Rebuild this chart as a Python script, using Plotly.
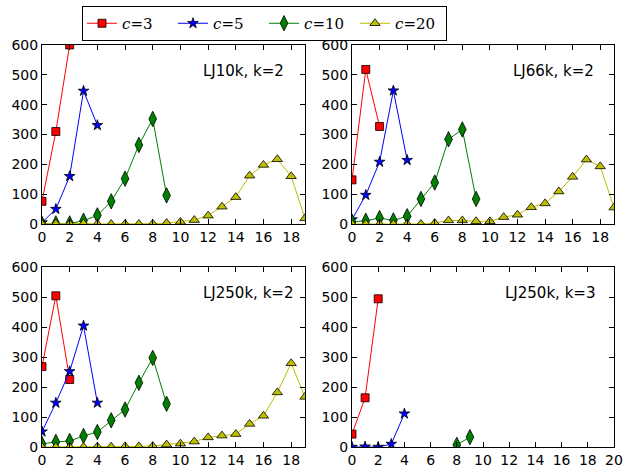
import plotly.graph_objects as go

# ---------- data ----------
panels = ["LJ10k, k=2", "LJ66k, k=2", "LJ250k, k=2", "LJ250k, k=3"]
series_names = ["c=3", "c=5", "c=10", "c=20"]

# LJ10k, k=2
p1_x3 = [0, 1, 2]
p1_c3 = [76, 310, 600]
p1_x5 = [0, 1, 2, 3, 4]
p1_c5 = [5, 50, 160, 446, 331]
p1_x10 = [0, 1, 2, 3, 4, 5, 6, 7, 8, 9]
p1_c10 = [0, 2, 2, 11, 29, 76, 152, 265, 352, 96]
p1_x20 = list(range(20))
p1_c20 = [0, 1, 0, 2, 0, 0, 0, 0, 1, 3, 7, 13, 28, 58, 90, 162, 198, 217, 160, 19]

# LJ66k, k=2
p2_x3 = [0, 1, 2]
p2_c3 = [148, 518, 327]
p2_x5 = [0, 1, 2, 3, 4]
p2_c5 = [15, 97, 208, 447, 214]
p2_x10 = [0, 1, 2, 3, 4, 5, 6, 7, 8, 9]
p2_c10 = [7, 11, 20, 12, 26, 84, 139, 284, 317, 84]
p2_x20 = list(range(20))
p2_c20 = [0, 0, 0, 0, 0, 0, 3, 12, 12, 9, 9, 23, 31, 56, 69, 109, 158, 216, 193, 55]

# LJ250k, k=2
p3_x3 = [0, 1, 2]
p3_c3 = [268, 504, 225]
p3_x5 = [0, 1, 2, 3, 4]
p3_c5 = [51, 147, 252, 404, 147]
p3_x10 = [0, 1, 2, 3, 4, 5, 6, 7, 8, 9]
p3_c10 = [10, 17, 20, 37, 50, 89, 125, 214, 297, 144]
p3_x20 = list(range(20))
p3_c20 = [0, 0, 0, 0, 1, 1, 2, 2, 3, 8, 11, 18, 32, 38, 43, 77, 104, 182, 279, 167]

# LJ250k, k=3
p4_x3 = [0, 1, 2]
p4_c3 = [43, 164, 494]
p4_x5 = [0, 1, 2, 3, 4]
p4_c5 = [0, 1, 0, 10, 111]
p4_x10 = [8, 9]
p4_c10 = [7, 33]
p4_x20 = []
p4_c20 = []

x_ranges = [[0, 19], [0, 19], [0, 19], [0, 20]]
y_range = [0, 600]
x_ticks = list(range(0, 21, 2))
y_ticks = list(range(0, 601, 100))

# ---------- styles ----------
colors = ["#ff0000", "#0000ff", "#008000", "#bfbf00"]
symbols = ["square", "star", "diamond-tall", "triangle-up"]
msizes = [8, 8, 11, 9]
legend_labels = ["<i>c</i>=3", "<i>c</i>=5", "<i>c</i>=10", "<i>c</i>=20"]

W, H = 632, 468
def px_dom_x(a, b):
    return [a / W, b / W]
def px_dom_y(top, bot):
    return [1 - bot / H, 1 - top / H]

doms = [
    (px_dom_x(42, 305), px_dom_y(45, 224)),
    (px_dom_x(352, 614), px_dom_y(45, 224)),
    (px_dom_x(42, 305), px_dom_y(267, 447)),
    (px_dom_x(352, 614), px_dom_y(267, 447)),
]

data = [
    [(p1_x3, p1_c3), (p1_x5, p1_c5), (p1_x10, p1_c10), (p1_x20, p1_c20)],
    [(p2_x3, p2_c3), (p2_x5, p2_c5), (p2_x10, p2_c10), (p2_x20, p2_c20)],
    [(p3_x3, p3_c3), (p3_x5, p3_c5), (p3_x10, p3_c10), (p3_x20, p3_c20)],
    [(p4_x3, p4_c3), (p4_x5, p4_c5), (p4_x10, p4_c10), (p4_x20, p4_c20)],
]

fig = go.Figure()
tick_font = dict(family="DejaVu Sans", size=14, color="black")
ann_font = dict(family="DejaVu Sans", size=15, color="black")

for i, panel in enumerate(data):
    xa = "x" if i == 0 else f"x{i+1}"
    ya = "y" if i == 0 else f"y{i+1}"
    for j, (xs, ys) in enumerate(panel):
        fig.add_trace(go.Scatter(
            x=xs, y=ys, xaxis=xa, yaxis=ya, mode="lines+markers",
            name=legend_labels[j], legendgroup=series_names[j],
            showlegend=(i == 0),
            line=dict(color=colors[j], width=1),
            marker=dict(symbol=symbols[j], size=msizes[j], color=colors[j],
                        line=dict(color="black", width=0.8)),
        ))
    axis_common = dict(showline=True, linecolor="black", linewidth=1, mirror="ticks",
                       ticks="inside", ticklen=5, tickcolor="black", showgrid=False,
                       zeroline=False, tickfont=tick_font, automargin=False)
    xd, yd = doms[i]
    fig.layout[("xaxis" if i == 0 else f"xaxis{i+1}")] = dict(
        domain=xd, range=x_ranges[i], tickvals=x_ticks, anchor=ya, **axis_common)
    fig.layout[("yaxis" if i == 0 else f"yaxis{i+1}")] = dict(
        domain=yd, range=y_range, tickvals=y_ticks, anchor=xa, **axis_common)
    fig.add_annotation(x=11.5, y=513, xref=xa, yref=ya, text=panels[i],
                       showarrow=False, xanchor="left", yanchor="middle", font=ann_font)

fig.update_layout(
    width=W, height=H, margin=dict(l=0, r=0, t=0, b=0, autoexpand=False),
    paper_bgcolor="white", plot_bgcolor="white",
    showlegend=True,
    legend=dict(orientation="h", x=82 / W, y=1 - 6 / H, xanchor="left", yanchor="top",
                bordercolor="black", borderwidth=1, bgcolor="white",
                font=dict(family="DejaVu Serif", size=15, color="black"),
                entrywidth=46, itemwidth=30),
)

fig.write_html("out.html", config={"displayModeBar": False},
               post_script="document.body.style.margin='0px';")
